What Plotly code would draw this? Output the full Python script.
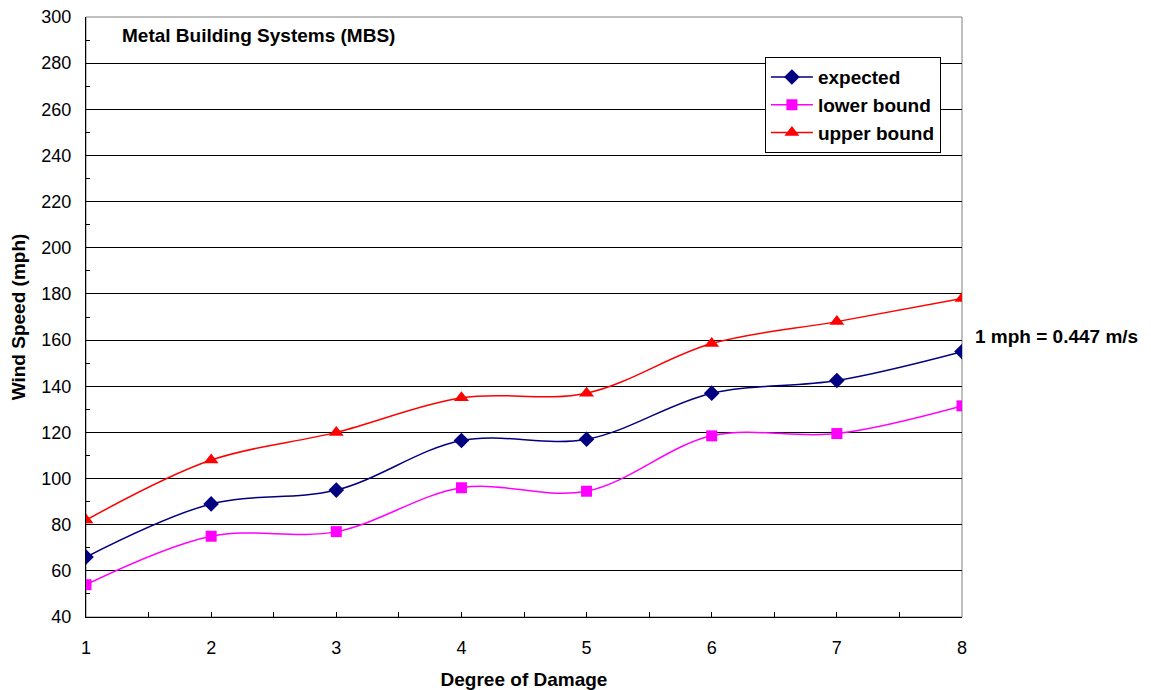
import plotly.graph_objects as go

degree = [1, 2, 3, 4, 5, 6, 7, 8]
expected = [66, 89, 95, 116.5, 117, 137, 142.5, 155]
lower_bound = [54, 75, 77, 96, 94.5, 118.5, 119.5, 131.5]
upper_bound = [82, 108, 120, 135, 137, 158.5, 168, 178]

FONT = "Liberation Sans, Arial, sans-serif"

fig = go.Figure()
series = [
    ("expected", expected, "#000080", "diamond", 12),
    ("lower bound", lower_bound, "#FF00FF", "square", 11),
    ("upper bound", upper_bound, "#FF0000", "triangle-up", 13),
]
for name, vals, col, sym, sz in series:
    fig.add_trace(go.Scatter(
        x=degree, y=vals, name=name, mode="lines+markers",
        line=dict(color=col, width=1.5, shape="spline", smoothing=1),
        marker=dict(color=col, symbol=sym, size=sz),
    ))

fig.add_shape(type="rect", xref="x domain", yref="y domain", x0=0, x1=1, y0=0, y1=1,
              line=dict(color="#808080", width=1), layer="below")

fig.update_layout(
    width=1143, height=682,
    margin=dict(l=78, r=189, t=9, b=73),
    plot_bgcolor="white", paper_bgcolor="white",
    font=dict(family=FONT, size=18, color="black"),
    showlegend=True,
    legend=dict(x=0.775, y=0.933, xanchor="left", yanchor="top",
                bordercolor="black", borderwidth=1, bgcolor="white", itemwidth=42,
                font=dict(family=FONT, size=19, color="black", weight="bold")),
    xaxis=dict(range=[1, 8], tickvals=degree, ticks="inside", ticklen=5,
               tickcolor="black", showgrid=False, showline=True, linecolor="black",
               linewidth=1, zeroline=False, automargin=False, ticklabelstandoff=14,
               ticklabeloverflow="allow",
               minor=dict(dtick=0.5, tick0=1, ticks="inside", ticklen=5, tickcolor="black"),
               title=dict(text="<b>Degree of Damage</b>", font=dict(size=19), standoff=16),
               tickfont=dict(size=18)),
    yaxis=dict(range=[40, 300], dtick=20, tick0=40, ticks="inside", ticklen=5,
               tickcolor="black", showgrid=True, gridcolor="black", gridwidth=1,
               showline=True, linecolor="black", linewidth=1, zeroline=False,
               automargin=False, ticklabelstandoff=10, ticklabeloverflow="allow",
               minor=dict(dtick=10, ticks="inside", ticklen=4, tickcolor="black", showgrid=False),
               title=dict(text="<b>Wind Speed (mph)</b>", font=dict(size=19), standoff=10),
               tickfont=dict(size=18)),
    annotations=[
        dict(text="<b>Metal Building Systems (MBS)</b>", xref="paper", yref="paper",
             x=0.039, y=0.97, xanchor="left", yanchor="middle", showarrow=False,
             font=dict(size=19)),
        dict(text="<b>1 mph = 0.447 m/s</b>", xref="paper", yref="paper",
             x=1.012, y=0.468, xanchor="left", yanchor="middle", showarrow=False,
             font=dict(size=19)),
    ],
)

fig.write_html("out.html")
